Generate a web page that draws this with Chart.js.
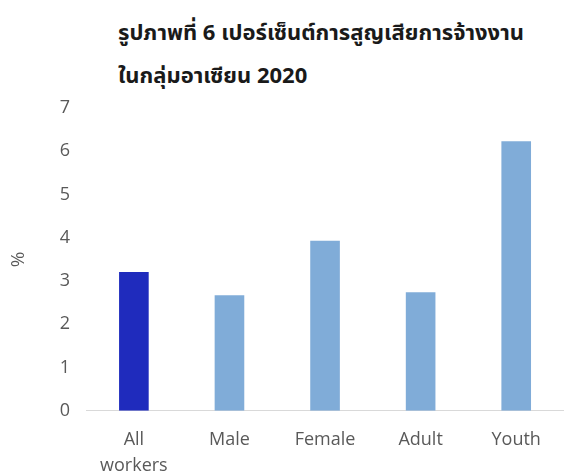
<!DOCTYPE html>
<html>
<head>
<meta charset="utf-8">
<script src="https://cdn.jsdelivr.net/npm/chart.js@4"></script>
<style>
    html, body { margin: 0; padding: 0; background: #fff; }
    #wrap { position: relative; width: 564px; height: 475px; }
    #title {
        position: absolute; left: 118px; top: 10px;
        font-family: "Noto Sans", "Noto Sans Thai", "Liberation Sans", sans-serif;
        font-weight: bold; font-size: 22px; line-height: 43px; color: #1a1a1a;
    }
    #chartBox { position: absolute; left: 0; top: 0; width: 564px; height: 475px; }
</style>
</head>
<body>
<div id="wrap">
    <div id="title">รูปภาพที่ 6 เปอร์เซ็นต์การสูญเสียการจ้างงาน<br>ในกลุ่มอาเซียน 2020</div>
    <div id="chartBox"><canvas id="lossChart"></canvas></div>
</div>
<script>
// Data
const categories = [['All', 'workers'], 'Male', 'Female', 'Adult', 'Youth'];
const lossValues = [3.21, 2.67, 3.93, 2.74, 6.23];
const yTicks = [0, 1, 2, 3, 4, 5, 6, 7];

const barColors = ['#1f2bbd', '#80acd8', '#80acd8', '#80acd8', '#80acd8'];

document.addEventListener('DOMContentLoaded', function () {
    const ctx = document.getElementById('lossChart');
    new Chart(ctx, {
        type: 'bar',
        data: {
            labels: categories,
            datasets: [{
                data: lossValues,
                backgroundColor: barColors,
                barPercentage: 0.31,
                categoryPercentage: 1
            }]
        },
        options: {
            responsive: true,
            maintainAspectRatio: false,
            animation: false,
            layout: {
                padding: { top: 108, right: 0, left: 7, bottom: -20 }
            },
            plugins: {
                legend: { display: false },
                tooltip: { enabled: false }
            },
            scales: {
                x: {
                    grid: { display: false, drawTicks: false },
                    border: { color: '#d9d9d9', width: 1 },
                    ticks: {
                        color: '#595959',
                        font: { family: 'Open Sans', size: 18, lineHeight: 1.45 },
                        padding: 16,
                        maxRotation: 0
                    }
                },
                y: {
                    min: yTicks[0],
                    max: yTicks[yTicks.length - 1],
                    grid: { display: false, drawTicks: false },
                    border: { display: false },
                    afterBuildTicks: function (axis) {
                        axis.ticks = yTicks.map(v => ({ value: v }));
                    },
                    ticks: {
                        color: '#595959',
                        font: { family: 'Open Sans', size: 18 },
                        padding: 16
                    },
                    title: {
                        display: true,
                        text: '%',
                        color: '#595959',
                        font: { family: 'Open Sans', size: 19 },
                        padding: { top: 0, bottom: 14 }
                    }
                }
            }
        }
    });
});
</script>
</body>
</html>
